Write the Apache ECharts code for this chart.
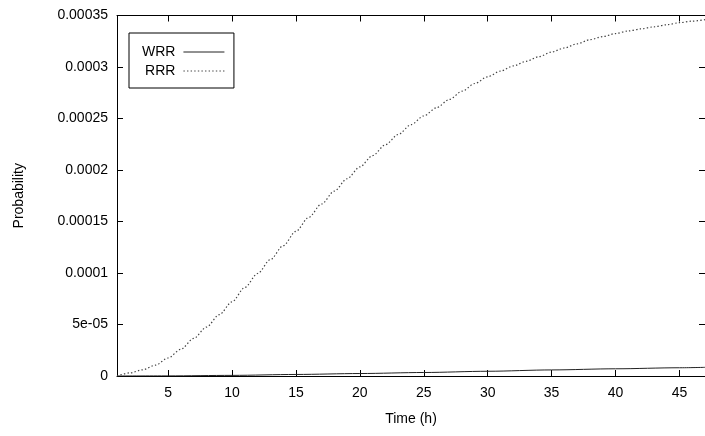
<!DOCTYPE html>
<html>
<head>
<meta charset="utf-8">
<script src="https://cdn.jsdelivr.net/npm/echarts@6/dist/echarts.min.js"></script>
<style>
  html, body { margin: 0; padding: 0; background: #fff; }
  #chart { width: 705px; height: 436px; }
</style>
</head>
<body>
<div id="chart"></div>
<script>
// Time in hours
const hours = [1, 2, 3, 4, 5, 6, 7, 8, 9, 10, 11, 12, 13, 14, 15, 16, 17, 18, 19, 20,
  21, 22, 23, 24, 25, 26, 27, 28, 29, 30, 31, 32, 33, 34, 35, 36, 37, 38, 39, 40,
  41, 42, 43, 44, 45, 46, 47];

// Probability for the RRR configuration
const rrr = [0, 3.0e-6, 6.0e-6, 1.05e-5, 1.75e-5, 2.6e-5, 3.65e-5, 4.75e-5, 5.95e-5, 7.2e-5,
  8.6e-5, 9.95e-5, 1.13e-4, 1.265e-4, 1.405e-4, 1.54e-4, 1.67e-4, 1.795e-4, 1.915e-4, 2.03e-4,
  2.14e-4, 2.245e-4, 2.345e-4, 2.44e-4, 2.525e-4, 2.605e-4, 2.685e-4, 2.765e-4, 2.84e-4, 2.905e-4,
  2.96e-4, 3.01e-4, 3.055e-4, 3.10e-4, 3.145e-4, 3.185e-4, 3.225e-4, 3.265e-4, 3.295e-4, 3.325e-4,
  3.35e-4, 3.37e-4, 3.39e-4, 3.41e-4, 3.43e-4, 3.445e-4, 3.46e-4];

// Probability for the WRR configuration
const wrrHours = [1, 5, 10, 15, 20, 25, 30, 35, 40, 45, 47];
const wrr = [0, 1.0e-7, 6.0e-7, 1.5e-6, 2.4e-6, 3.4e-6, 4.6e-6, 5.9e-6, 7.0e-6, 8.0e-6, 8.4e-6];

const xTicks = [5, 10, 15, 20, 25, 30, 35, 40, 45];
const yTickLabels = ['0', '5e-05', '0.0001', '0.00015', '0.0002', '0.00025', '0.0003', '0.00035'];

const FONT = "'Liberation Sans', Arial, sans-serif";
const INK = '#000';

const chart = echarts.init(document.getElementById('chart'), null, { renderer: 'canvas' });

const baseX = {
  type: 'value', min: 1, max: 47,
  splitLine: { show: false },
  axisLine: { show: true, onZero: false, lineStyle: { color: INK, width: 1 } },
  axisTick: { show: true, inside: true, length: 6, customValues: xTicks, lineStyle: { color: INK } }
};
const baseY = {
  type: 'value', min: 0, max: 0.00035, interval: 0.00005,
  splitLine: { show: false },
  axisLine: { show: true, onZero: false, lineStyle: { color: INK, width: 1 } },
  axisTick: { show: true, inside: true, length: 6, lineStyle: { color: INK } }
};

chart.setOption({
  animation: false,
  backgroundColor: '#fff',
  textStyle: { fontFamily: FONT },
  grid: { left: 117, top: 15.5, bottom: 60, right: -5.5, containLabel: false },
  legend: {
    orient: 'vertical',
    left: 129, top: 33,
    align: 'right',
    padding: [11, 9, 9, 13],
    borderColor: INK, borderWidth: 1,
    itemWidth: 41, itemHeight: 11, itemGap: 3,
    // only the line sample is shown, no marker
    itemStyle: { opacity: 0 },
    lineStyle: { width: 1 },
    textStyle: { fontFamily: FONT, fontSize: 14, color: INK, lineHeight: 16, padding: [0, 3, 0, 0] },
    data: ['WRR', 'RRR']
  },
  xAxis: [
    Object.assign({}, baseX, {
      position: 'bottom',
      name: 'Time (h)', nameLocation: 'middle', nameGap: 36,
      nameTextStyle: { fontFamily: FONT, fontSize: 14, color: INK },
      axisLabel: { show: true, customValues: xTicks, margin: 10, fontFamily: FONT, fontSize: 14, color: INK }
    }),
    Object.assign({}, baseX, { position: 'top', axisLabel: { show: false } })
  ],
  yAxis: [
    Object.assign({}, baseY, {
      position: 'left',
      name: 'Probability', nameLocation: 'middle', nameGap: 91, nameRotate: 90,
      nameTextStyle: { fontFamily: FONT, fontSize: 14, color: INK },
      axisLabel: {
        show: true, margin: 9, fontFamily: FONT, fontSize: 14, color: INK,
        formatter: (v, i) => yTickLabels[i]
      }
    }),
    Object.assign({}, baseY, { position: 'right', axisLabel: { show: false } })
  ],
  series: [
    {
      name: 'WRR', type: 'line', xAxisIndex: 0, yAxisIndex: 0,
      data: wrrHours.map((h, i) => [h, wrr[i]]),
      symbol: 'none', smooth: 0.3, smoothMonotone: 'x',
      lineStyle: { color: '#222', width: 1, type: 'solid' },
      itemStyle: { color: '#222' }
    },
    {
      name: 'RRR', type: 'line', xAxisIndex: 0, yAxisIndex: 0,
      data: hours.map((h, i) => [h, rrr[i]]),
      symbol: 'none', smooth: 0.3, smoothMonotone: 'x',
      lineStyle: { color: '#444', width: 1.2, type: [1.4, 2.2] },
      itemStyle: { color: '#444' }
    }
  ]
});
</script>
</body>
</html>
